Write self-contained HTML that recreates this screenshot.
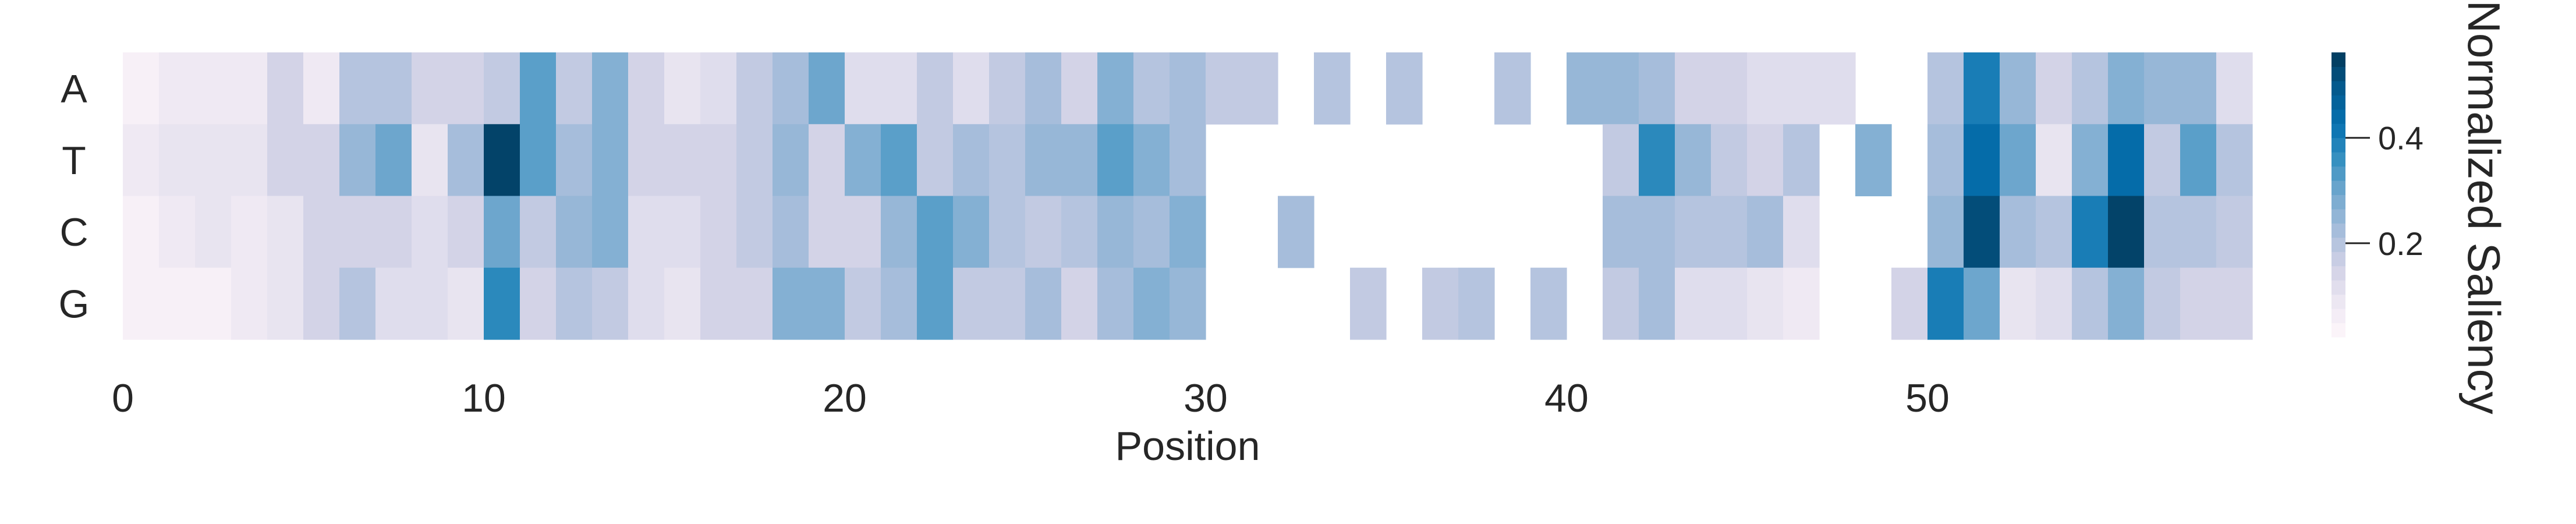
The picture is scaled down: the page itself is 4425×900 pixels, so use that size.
<!DOCTYPE html>
<html><head><meta charset="utf-8"><style>
body{margin:0;background:#fff;}
svg{display:block;font-family:"Liberation Sans",sans-serif;}
</style></head><body>
<svg id="chart" width="4425" height="900" viewBox="0 0 4425 900" xmlns="http://www.w3.org/2000/svg">
<g id="cells"></g>
<g id="labels"></g>
<g id="cbar"></g>
</svg>
<script>
const rowLabels = ["A","T","C","G"];
const xTicks = [0,10,20,30,40,50];
const cbarTicks = [0.2,0.4];
const vmin = 0.022, vmax = 0.562;
const rowA = [.05,.08,.08,.08,.15,.08,.20,.20,.15,.15,.18,.32,.18,.27,.15,.10,.12,.18,.225,.30,.12,.12,.18,.12,.18,.225,.15,.27,.20,.225,.18,.18,null,.20,null,.20,null,null,.20,null,.245,.245,.225,.15,.15,.12,.12,.12,null,null,.20,.40,.245,.15,.20,.27,.245,.245,.12];
const rowT = [.08,.10,.10,.10,.15,.15,.245,.30,.10,.225,.54,.32,.225,.27,.15,.15,.15,.18,.245,.15,.27,.32,.18,.225,.20,.245,.245,.32,.27,.225,null,null,null,null,null,null,null,null,null,null,null,.18,.375,.245,.18,.15,.20,null,.27,null,.225,.44,.30,.10,.27,.44,.18,.32,.20];
const rowC = [.05,.08,.10,.08,.10,.15,.15,.15,.12,.15,.30,.18,.245,.27,.12,.12,.15,.18,.225,.15,.15,.245,.32,.27,.20,.18,.20,.245,.225,.27,null,null,.225,null,null,null,null,null,null,null,null,.225,.225,.20,.20,.225,.12,null,null,null,.245,.52,.225,.20,.40,.54,.20,.20,.18];
const rowG = [.05,.05,.05,.08,.10,.15,.20,.12,.12,.10,.375,.15,.20,.18,.12,.10,.15,.15,.27,.27,.18,.225,.32,.18,.18,.225,.15,.225,.27,.245,null,null,null,null,.18,null,.18,.20,null,.20,null,.18,.225,.12,.12,.10,.08,null,null,.15,.40,.30,.10,.12,.20,.27,.18,.15,.15];
const rows = [rowA,rowT,rowC,rowG];

const NS="http://www.w3.org/2000/svg";
const X0=211, Y0=90, CW=62, RH=123.25;
const xPos = i => X0 + i*CW;
const yPos = r => Y0 + r*RH;
const stops=["#fff7fb","#ece7f2","#d0d1e6","#a6bddb","#74a9cf","#3690c0","#0570b0","#045a8d","#023858"];
function hex(h){return [1,3,5].map(k=>parseInt(h.substr(k,2),16));}
function color(v){
  let t=Math.max(0,Math.min(1,(v-vmin)/(vmax-vmin)))*(stops.length-1);
  let i=Math.min(Math.floor(t),stops.length-2), f=t-i;
  let a=hex(stops[i]), b=hex(stops[i+1]);
  return "rgb("+a.map((c,k)=>Math.round(c+(b[k]-c)*f)).join(",")+")";
}
function mk(tag,attrs,parent){const e=document.createElementNS(NS,tag);for(const k in attrs)e.setAttribute(k,attrs[k]);parent.appendChild(e);return e;}

const cells=document.getElementById("cells");
rows.forEach((row,r)=>{
  row.forEach((v,i)=>{
    if(v===null) return;
    const rc=mk("rect",{x:xPos(i),y:yPos(r),width:CW+0.6,height:RH+0.6,fill:color(v)},cells);
    
    
  });
});

const labels=document.getElementById("labels");
rowLabels.forEach((l,r)=>{
  const t=mk("text",{x:127,y:yPos(r)+RH/2+24,"font-size":68,fill:"#262626","text-anchor":"middle"},labels);
  t.textContent=l;
  
  
});
xTicks.forEach(v=>{
  const t=mk("text",{x:xPos(v),y:707,"font-size":68,fill:"#262626","text-anchor":"middle"},labels);
  t.textContent=v;
  
  
});
const xt=mk("text",{x:2040,y:790,"font-size":70,fill:"#262626","text-anchor":"middle"},labels);
xt.textContent="Position";



const cbar=document.getElementById("cbar");
const CB_X=4005, CB_W=24, CB_T=90, CB_B=579;
const cy = v => CB_B - (v-vmin)/(vmax-vmin)*(CB_B-CB_T);
const N=20;
for(let k=0;k<N;k++){
  const v0=vmin+(vmax-vmin)*k/N, v1=vmin+(vmax-vmin)*(k+1)/N;
  const s=mk("rect",{x:CB_X,y:cy(v1),width:CB_W,height:cy(v0)-cy(v1)+0.5,fill:color((v0+v1)/2)},cbar);
  
  
}
cbarTicks.forEach(v=>{
  const ln=mk("line",{x1:CB_X+CB_W,x2:CB_X+CB_W+42,y1:cy(v),y2:cy(v),stroke:"#262626","stroke-width":3},cbar);
  
  
  const t=mk("text",{x:4085,y:cy(v)+20,"font-size":56,fill:"#262626"},cbar);
  t.textContent=v.toFixed(1);
  
  
});
const ct=mk("text",{x:0,y:0,"font-size":78,fill:"#262626","text-anchor":"middle",transform:"translate(4240,356) rotate(90)"},cbar);
ct.textContent="Normalized Saliency";


</script>
</body></html>
